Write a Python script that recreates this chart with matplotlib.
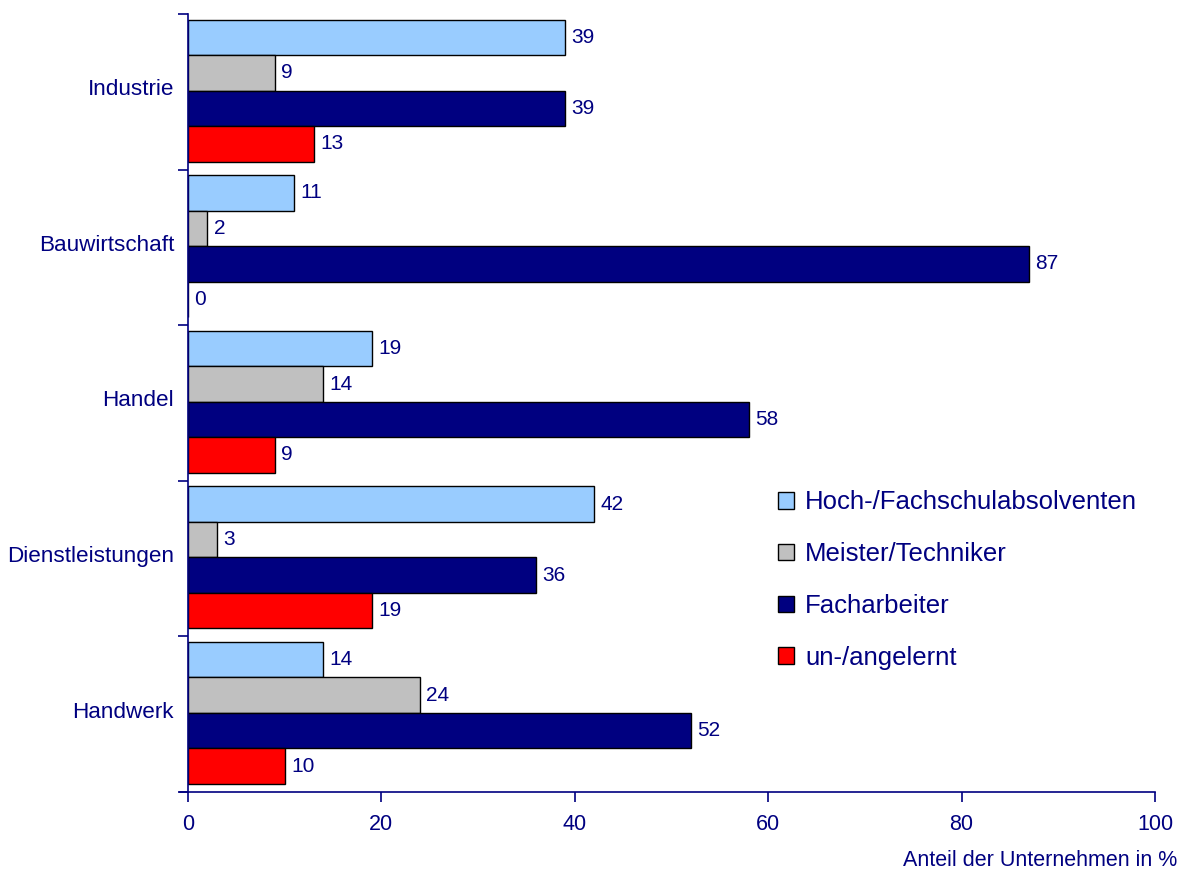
import numpy as np
import matplotlib.pyplot as plt

plt.rcParams['font.family'] = ['Liberation Sans', 'DejaVu Sans']

# Data
categories = ["Industrie", "Bauwirtschaft", "Handel", "Dienstleistungen", "Handwerk"]
series_names = ["Hoch-/Fachschulabsolventen", "Meister/Techniker", "Facharbeiter", "un-/angelernt"]
hoch = [39, 11, 19, 42, 14]
meister = [9, 2, 14, 3, 24]
fach = [39, 87, 58, 36, 52]
un = [13, 0, 9, 19, 10]
colors = ["#99CCFF", "#C0C0C0", "#000080", "#FF0000"]

NAVY = "#000080"

fig = plt.figure(figsize=(11.86, 8.71), dpi=100)
ax = fig.add_axes([188/1186, 1 - 792/871, (1155-188)/1186, (792-14)/871])

y = np.arange(len(categories))
h = 0.228
offsets = [-1.5*h, -0.5*h, 0.5*h, 1.5*h]
all_series = [hoch, meister, fach, un]

for vals, name, col, off in zip(all_series, series_names, colors, offsets):
    bars = ax.barh(y + off - 0.008, vals, height=h, color=col, edgecolor="black",
                   linewidth=1.0, label=name)
    for b, v in zip(bars, vals):
        ax.text(v + 0.65, b.get_y() + b.get_height()/2, str(v), va="center", ha="left",
                fontsize=15, color=NAVY)

ax.set_xlim(0, 100)
ax.set_ylim(len(categories) - 0.5, -0.5)
ax.set_xticks([0, 20, 40, 60, 80, 100])
ax.set_yticks(np.arange(-0.5, len(categories), 1.0))
ax.set_yticklabels([])
ax.set_yticks(y - 0.03, minor=True)
ax.set_yticklabels(categories, minor=True)
ax.tick_params(axis="y", which="minor", length=0, pad=10, labelsize=16.2, labelcolor=NAVY)
ax.tick_params(axis="y", which="major", length=7, width=1.2, color=NAVY, direction="out")
ax.tick_params(axis="x", length=7, width=1.2, color=NAVY, direction="out", pad=9,
               labelsize=15.5, labelcolor=NAVY)

for side in ["top", "right"]:
    ax.spines[side].set_visible(False)
for side in ["left", "bottom"]:
    ax.spines[side].set_color(NAVY)
    ax.spines[side].set_linewidth(1.2)
ax.spines["bottom"].set_bounds(-0.8, 100)

leg = ax.legend(loc="center left", bbox_to_anchor=(0.5866, 0.2725), frameon=False,
                fontsize=18.5, handlelength=0.62, handleheight=0.62, handletextpad=0.43,
                labelspacing=1.08, labelcolor=NAVY)
for p in leg.get_patches():
    p.set_linewidth(1.0)

fig.text(1177/1186, 1 - 866/871, "Anteil der Unternehmen in %", ha="right", va="baseline",
         fontsize=15.5, color=NAVY)

fig.savefig("out.png", dpi=100)
